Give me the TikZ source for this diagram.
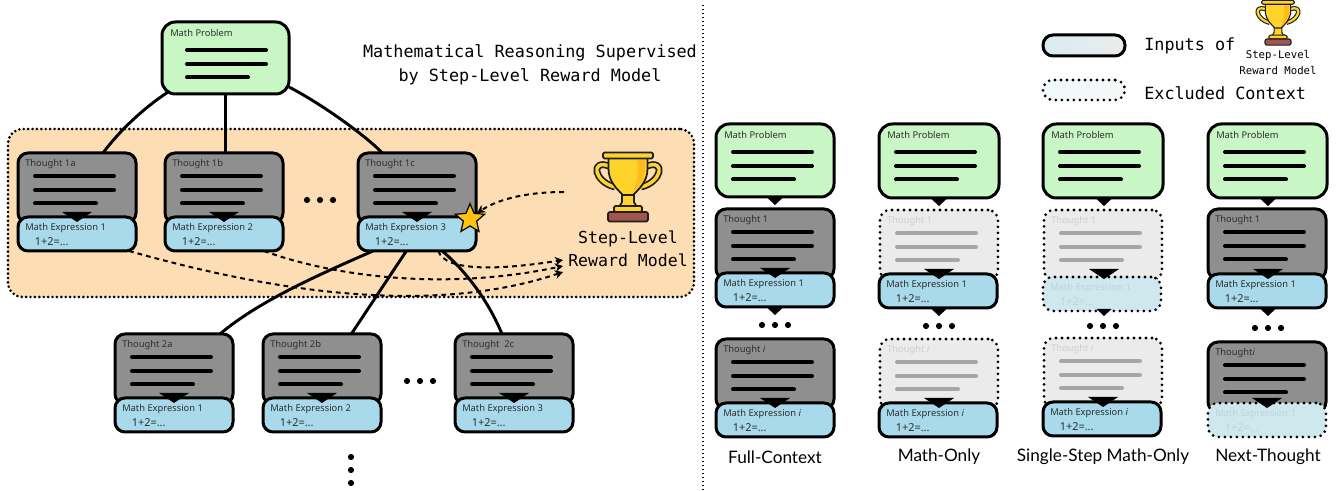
\documentclass[tikz,border=0pt]{standalone}
\usepackage{fontspec}
\setmainfont{Noto Sans}
\newfontfamily\monof{DejaVu Sans Mono}
\newfontfamily\capf{Lato}
\usetikzlibrary{shapes.geometric,arrows.meta,shadings,backgrounds}
\definecolor{probc}{HTML}{C8F7C5}
\definecolor{thc}{HTML}{8F8F8F}
\definecolor{exc}{HTML}{A8DAEB}
\definecolor{orc}{HTML}{FDDDB3}
\definecolor{fthc}{HTML}{EBEBEB}
\definecolor{flin}{HTML}{A6A6A6}
\definecolor{fexc}{HTML}{CFE8EE}
\definecolor{ftxt}{HTML}{CFCFCF}
\definecolor{fext}{HTML}{B9D5DC}
\definecolor{labc}{HTML}{2E2E2E}
\definecolor{trY}{HTML}{FFD42A}
\definecolor{trB}{HTML}{A0564F}
\definecolor{trK}{HTML}{1E1E1E}
\definecolor{starc}{HTML}{FFC20E}
\tikzset{
 x=0.75pt,y=-0.75pt,
 boxbase/.style={rectangle,rounded corners=7.5pt,inner sep=0pt,outer sep=0pt},
 solidb/.style={boxbase,draw=black,line width=2.25pt},
 dotb/.style={boxbase,draw=black,line width=2.3pt,dash pattern=on 0pt off 4.5pt,line cap=round},
 lbl/.style={anchor=west,inner sep=0pt,font=\fontsize{7}{8}\selectfont},
 frm/.style={anchor=west,inner sep=0pt,font=\fontsize{8.2}{9}\selectfont},
 conn/.style={line width=2.2pt,draw=black},
 dsh/.style={line width=1.5pt,dash pattern=on 3.6pt off 3pt,-{Stealth[length=6pt,width=6.5pt]}},
 barl/.style={line width=3pt,line cap=round},
 mono/.style={font=\monof\fontsize{12.6}{18}\selectfont,align=center,inner sep=0pt},
 captext/.style={font=\capf\fontsize{12.9}{15}\selectfont,inner sep=0pt},
}
% generic box: name, style, x1,y1,x2,y2
\newcommand\bx[6]{%
 \pgfmathsetmacro\bw{(#5-#3)*0.75}\pgfmathsetmacro\bh{(#6-#4)*0.75}%
 \node[#2,minimum width=\bw pt,minimum height=\bh pt] (#1) at ({(#3+#5)/2},{(#4+#6)/2}) {};}
\newcommand\bars[4]{% x,y,len,colour
 \draw[barl,#4] (#1,#2) -- ++(#3,0);
 \draw[barl,#4] (#1,#2+14) -- ++(#3,0);
 \draw[barl,#4] (#1,#2+27.5) -- ++(#3-18,0);}
% problem: name x1 y1 x2 y2 barsx
\newcommand\prob[6]{%
 \bx{#1}{solidb,fill=probc,rounded corners=10pt}{#2}{#3}{#4}{#5}
 \node[lbl,text=labc] (#1-l) at (#2+8,#3+11) {Math Problem};
 \bars{#6}{#3+28}{79}{black}}
% thought: kind-style fill textcol barcol name x y label
\newcommand\thG[7]{%
 \bx{#4}{#1}{#5}{#6}{#5+118}{#6+70}
 \node[lbl,text=#2] (#4-l) at (#5+7,#6+11) {#7};
 \bars{#5+17}{#6+23}{79}{#3}}
\newcommand\thN[4]{\thG{solidb,fill=thc}{labc}{black}{#1}{#2}{#3}{#4}}
\newcommand\thF[4]{\thG{dotb,fill=fthc}{ftxt}{flin}{#1}{#2}{#3}{#4}}
\newcommand\exG[6]{%
 \bx{#3}{#1}{#4}{#5}{#4+118}{#5+34}
 \node[lbl,text=#2] (#3-l) at (#4+7,#5+11) {#6};
 \node[frm,text=#2] (#3-f) at (#4+16.5,#5+25) {1+2=...};}
\newcommand\exN[4]{\exG{solidb,fill=exc}{labc}{#1}{#2}{#3}{#4}}
\newcommand\exF[4]{\exG{dotb,fill=fexc}{fext}{#1}{#2}{#3}{#4}}
\newcommand\tri[2]{\fill[black] (#1-15,#2-5) -- (#1+15,#2-5) -- (#1,#2+5) -- cycle;}
\newcommand\stub[2]{\fill[black] (#1-7.5,#2) -- (#1+7.5,#2) -- (#1,#2+7) -- cycle;}
\newcommand\threeh[3]{\foreach \k in {-1,0,1}{\fill[black] (#1+\k*#3,#2) circle[radius=3.1];}}
\newcommand\trophy[3]{% cx top scale
 \pgfmathsetmacro\lw{1.3*#3}\pgfmathsetmacro\ld{2.6*#3}%
 \begin{scope}[shift={(#1,#2)},scale=#3,line join=round]
  \draw[trK,line width=\lw pt,double=trY,double distance=\ld pt] (-19,14) .. controls (-38,7) and (-34,30) .. (-13,35);
  \draw[trK,line width=\lw pt,double=trY,double distance=\ld pt] (19,14) .. controls (38,7) and (34,30) .. (13,35);
  \draw[trK,line width=\lw pt,fill=trY] (-6,40) -- (-6,50) .. controls (-6,53) and (-9,54) .. (-11,55) -- (11,55) .. controls (9,54) and (6,53) .. (6,50) -- (6,40) -- cycle;
  \draw[trK,line width=\lw pt,fill=trY] (-19.5,6) -- (-19.5,17) .. controls (-19.5,30) and (-10,38) .. (-5,43) -- (5,43) .. controls (10,38) and (19.5,30) .. (19.5,17) -- (19.5,6) -- cycle;
  \fill[trY!70!orange] (9,8) -- (17,8) -- (17,17) .. controls (17,30) and (9,37) .. (4,41) .. controls (10,30) and (11,18) .. (9,8) -- cycle;
  \draw[trK,line width=\lw pt,fill=trY,rounded corners=1pt] (-25,0.5) rectangle (25,6.5);
  \draw[trK,line width=\lw pt,fill=trY,rounded corners=1pt] (-14,54) rectangle (14,60);
  \draw[trK,line width=\lw pt,fill=trB,rounded corners=1.5pt] (-20,60) rectangle (20,69.5);
 \end{scope}}
\begin{document}
\begin{tikzpicture}
\useasboundingbox (0,0) rectangle (1340,491);
\draw[line width=0.8pt,dash pattern=on 1pt off 2pt] (703,5) -- (703,491);
% title
\node[mono] (title) at (530,65) {Mathematical Reasoning Supervised\\by Step-Level Reward Model};
\prob{p0}{162}{22}{289}{94}{187}
\thN{t1a}{18}{153}{Thought 1a}\thN{t1b}{165}{153}{Thought 1b}\thN{t1c}{358}{153}{Thought 1c}
\exN{e1a}{18}{217}{Math Expression 1}\exN{e1b}{165}{217}{Math Expression 2}\exN{e1c}{358}{217}{Math Expression 3}
\thN{t2a}{115}{334}{Thought 2a}\thN{t2b}{263}{334}{Thought 2b}\thN{t2c}{455}{334}{Thought\ \ 2c}
\exN{e2a}{115}{398}{Math Expression 1}\exN{e2b}{263}{398}{Math Expression 2}\exN{e2c}{455}{398}{Math Expression 3}
\begin{pgfonlayer}{background}
\fill[white] (0,0) rectangle (1340,491);
\bx{region}{boxbase,fill=orc,draw=black,line width=2.2pt,dash pattern=on 0pt off 3.3pt,line cap=round,rounded corners=11pt}{8}{129}{694}{297}
\draw[conn] ([xshift=-43pt,yshift=1.5pt]p0.south) .. controls (145,107) and (120,130) .. ([xshift=19.5pt]t1a.north);
\draw[conn] (p0.south) -- ([xshift=1.1pt]t1b.north);
\draw[conn] ([xshift=47.6pt,yshift=5.25pt]p0.south) .. controls (320,103) and (365,135) .. ([xshift=-26pt]t1c.north);
\draw[conn] ([xshift=-33pt]e1c.south) .. controls (325,272) and (260,300) .. ([xshift=34.5pt]t2a.north);
\draw[conn] ([xshift=-8pt]e1c.south) -- ([xshift=22pt]t2b.north);
\draw[conn] ([xshift=19pt]e1c.south) .. controls (470,275) and (490,305) .. ([xshift=-9pt]t2c.north);
\end{pgfonlayer}
\tri{77}{217}\tri{224}{217}\tri{417}{217}\tri{174}{398}\tri{322}{398}\tri{514}{398}
\threeh{320}{200}{13}\threeh{420}{381}{13}
\foreach \k in {457,470,483}{\fill[black] (351,\k) circle[radius=3.1];}
% trophy big
\trophy{628}{152}{1}
\node[mono,font=\monof\fontsize{12.4}{17.3}\selectfont] (rm) at (628,249) {Step-Level\\Reward Model};
\coordinate (cupsrc) at (564,192);
\coordinate (rm1) at (563,260);
\coordinate (rm2) at (563,266);
\coordinate (rm3) at (563,272);
\node[star,star points=5,star point ratio=2.2,draw=black,line width=0.9pt,fill=starc,minimum size=23pt,inner sep=0pt] (st) at (470,219) {};
\draw[dsh] (cupsrc) .. controls (530,192) and (500,198) .. (st.40);
\draw[dsh] ([xshift=16pt]e1c.south) .. controls (445,272) and (500,270) .. (rm1);
\draw[dsh] ([xshift=30pt]e1b.south) .. controls (330,275) and (440,292) .. (rm2);
\draw[dsh] ([xshift=39pt]e1a.south) .. controls (250,285) and (420,320) .. (rm3);
% legend
\bx{leg1}{solidb,left color=fexc!80!white,right color=fthc}{1043}{35}{1125}{56}
\bx{leg2}{dotb,left color=fexc!30!white,right color=fthc!40!white}{1043}{80}{1125}{100}
\node[mono,anchor=west] (leg1t) at (1144,46) {Inputs of};
\node[mono,anchor=west] (leg2t) at (1144,93) {Excluded Context};
\trophy{1278}{0}{0.65}
\node[mono,font=\monof\fontsize{8}{12}\selectfont] (rmsmall) at (1278,62) {Step-Level\\Reward Model};
% column 1
\prob{c1p}{716}{124}{834}{197}{733}
\stub{775}{198}
\thN{c1t}{716}{209}{Thought 1}
\exN{c1e}{716}{273}{Math Expression 1}
\tri{775}{273}\stub{775}{308}
\threeh{775}{325}{13}
\thN{c1ti}{716}{339}{Thought {\itshape i}}
\exN{c1ei}{716}{403}{Math Expression {\itshape i}}
\tri{775}{403}
\node[captext] (c1c) at (775,457) {Full-Context};
% column 2
\prob{c2p}{879}{124}{999}{198}{896}
\stub{939}{199}
\thF{c2t}{880}{210}{Thought 1}
\exN{c2e}{879}{274}{Math Expression 1}
\tri{939}{274}\stub{939}{309}
\threeh{939}{326}{13}
\thF{c2ti}{880}{339}{Thought {\itshape i}}
\exN{c2ei}{879}{403}{Math Expression {\itshape i}}
\tri{939}{403}
\node[captext] (c2c) at (939,457) {Math-Only};
% column 3
\prob{c3p}{1043}{124}{1163}{198}{1060}
\stub{1104}{199}
\thF{c3t}{1044}{210}{Thought 1}
\exF{c3e}{1043}{277}{Math Expression 1}
\tri{1104}{274}\stub{1104}{309}
\threeh{1103}{326}{13}
\thF{c3ti}{1044}{338}{Thought {\itshape i}}
\exN{c3ei}{1043}{402}{Math Expression {\itshape i}}
\tri{1103}{402}
\node[captext] (c3c) at (1103,457) {Single-Step Math-Only};
% column 4
\prob{c4p}{1208}{124}{1327}{198}{1225}
\stub{1268}{199}
\thN{c4t}{1208}{209}{Thought 1}
\exN{c4e}{1208}{274}{Math Expression 1}
\tri{1268}{274}\stub{1268}{309}
\threeh{1268}{328}{13}
\thN{c4ti}{1208}{342}{Thought{\itshape i}}
\exF{c4ei}{1208}{403}{Math Expression 1}
\tri{1267}{403}
\node[captext] (c4c) at (1268,457) {Next-Thought};
\end{tikzpicture}
\end{document}
